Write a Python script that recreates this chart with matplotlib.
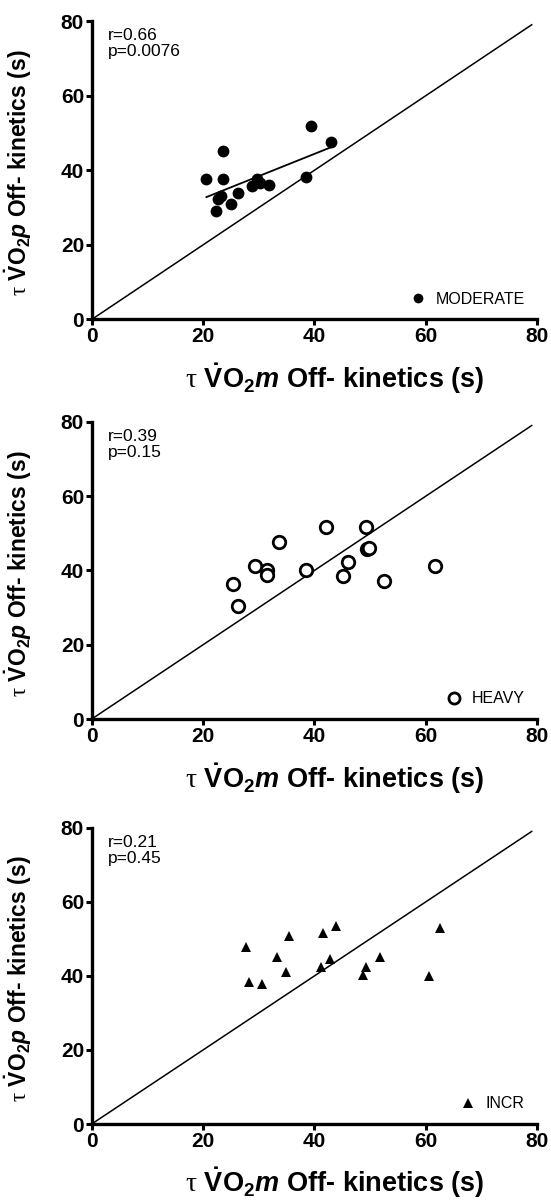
import numpy as np
import matplotlib
matplotlib.use("Agg")
import matplotlib.pyplot as plt

plt.rcParams["font.family"] = ["Liberation Sans", "DejaVu Sans"]
plt.rcParams["mathtext.fontset"] = "custom"
plt.rcParams["mathtext.rm"] = "Liberation Sans:bold"
plt.rcParams["mathtext.it"] = "Liberation Sans:italic:bold"
plt.rcParams["mathtext.bf"] = "Liberation Sans:bold"
plt.rcParams["mathtext.sf"] = "Liberation Serif"

# data
mod_x = [20.6, 23.5, 23.6, 39.3, 43.0, 38.4, 29.6, 28.7, 30.2, 31.8, 26.3, 23.3, 22.7, 25.1, 22.4]
mod_y = [37.7, 37.7, 45.2, 51.8, 47.7, 38.2, 37.7, 35.8, 36.5, 36.0, 33.8, 33.2, 32.2, 30.9, 29.0]

heavy_x = [25.4, 26.2, 29.4, 31.4, 31.5, 33.6, 38.5, 42.0, 45.2, 46.0, 49.2, 49.5, 49.8, 52.4, 61.6]
heavy_y = [36.3, 30.4, 41.3, 40.1, 38.9, 47.7, 40.1, 51.8, 38.5, 42.3, 51.8, 45.7, 46.1, 37.1, 41.3]

incr_x = [27.7, 28.2, 30.5, 33.2, 35.4, 34.8, 41.1, 41.6, 43.8, 42.7, 48.8, 49.3, 51.7, 60.5, 62.6]
incr_y = [47.8, 38.4, 37.8, 45.1, 50.8, 41.1, 42.4, 51.6, 53.5, 44.6, 40.3, 42.4, 45.1, 40.0, 53.0]

stats = ["r=0.66\np=0.0076", "r=0.39\np=0.15", "r=0.21\np=0.45"]
groups = ["MODERATE", "HEAVY", "INCR"]
ticks = [0, 20, 40, 60, 80]

xlab = r"$\mathsf{\tau}\ \dot{\mathrm{V}}\mathrm{O}_{2}\mathit{m}$ Off- kinetics (s)"
ylab = r"$\mathsf{\tau}\ \dot{\mathrm{V}}\mathrm{O}_{2}\mathit{p}$ Off- kinetics (s)"

fig = plt.figure(figsize=(5.51, 12.01), dpi=100)
rects = [
    [0.1664, 0.734, 0.8087, 0.2485],
    [0.1664, 0.4013, 0.8087, 0.2475],
    [0.1664, 0.0641, 0.8087, 0.2467],
]

data = [(mod_x, mod_y), (heavy_x, heavy_y), (incr_x, incr_y)]
styles = [
    dict(marker="o", color="black", markersize=8.5, markeredgewidth=0),
    dict(marker="o", markerfacecolor="white", markeredgecolor="black", markersize=9, markeredgewidth=2.0),
    dict(marker="^", color="black", markersize=7.5, markeredgewidth=0),
]
leg_sizes = [7, 8, 7]

for i, rect in enumerate(rects):
    ax = fig.add_axes(rect)
    x, y = data[i]

    ax.plot([0, 79], [0, 79], color="black", lw=1.1, zorder=1)
    ax.plot(x, y, linestyle="none", label=groups[i], zorder=3, clip_on=False, **styles[i])

    if i == 0:
        # regression line for the moderate group
        slope, icpt = np.polyfit(x, y, 1)
        xs = np.array([min(x), max(x)])
        ax.plot(xs, slope * xs + icpt, color="black", lw=1.3, zorder=2)

    ax.set_xlim(0, 80)
    ax.set_ylim(0, 80)
    ax.set_xticks(ticks)
    ax.set_yticks(ticks)
    for side in ["top", "right"]:
        ax.spines[side].set_visible(False)
    for side in ["left", "bottom"]:
        ax.spines[side].set_linewidth(2.4)
    ax.tick_params(direction="out", length=4, width=2.2, pad=1.5, labelsize=15)
    for lab in ax.get_xticklabels() + ax.get_yticklabels():
        lab.set_fontweight("bold")

    ax.text(0.037, 0.975, stats[i], transform=ax.transAxes, ha="left", va="top",
            fontsize=12.5, linespacing=1.05)

    ax.legend(loc="lower right", bbox_to_anchor=(1.0, 0.0), frameon=False,
              handlelength=0.8, handletextpad=0.7, borderpad=0.3,
              fontsize=11.5, markerscale=leg_sizes[i] / styles[i]["markersize"])

    ax.set_xlabel(xlab, fontsize=19.5, fontweight="bold")
    ax.set_ylabel(ylab, fontsize=16.5, fontweight="bold")
    ax.xaxis.set_label_coords(0.545, -0.14)
    ax.yaxis.set_label_coords(-0.13, 0.49)

fig.savefig("out.png", dpi=100)
